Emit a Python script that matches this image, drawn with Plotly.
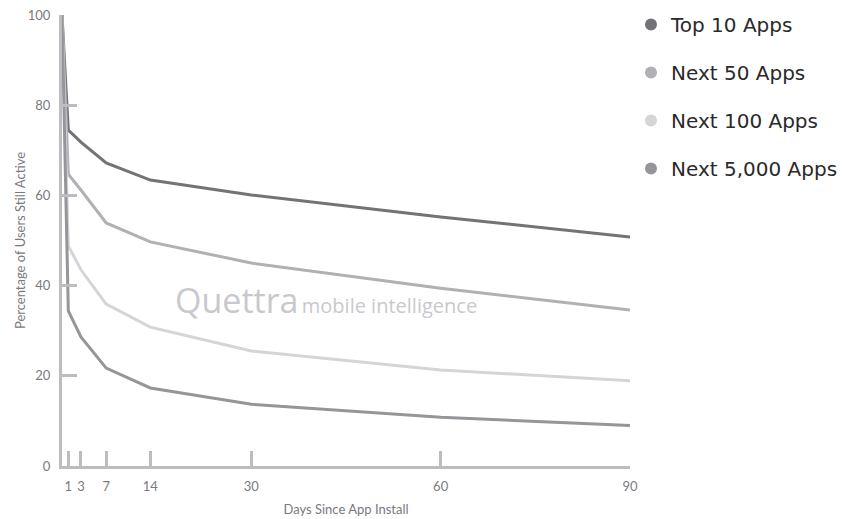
import plotly.graph_objects as go

days = [0, 1, 3, 7, 14, 30, 60, 90]
top10 = [100, 74.5, 71.8, 67.2, 63.4, 60.1, 55.2, 50.8]
next50 = [100, 64.7, 61.2, 53.9, 49.7, 45.0, 39.4, 34.6]
next100 = [100, 48.8, 43.5, 35.9, 30.8, 25.5, 21.3, 18.9]
next5000 = [100, 34.4, 28.6, 21.7, 17.3, 13.7, 10.8, 9.0]

series_names = ["Top 10 Apps", "Next 50 Apps", "Next 100 Apps", "Next 5,000 Apps"]
series_vals = [top10, next50, next100, next5000]
colors = ["#737377", "#b0b0b5", "#d5d5d8", "#95959a"]

x_ticks = [1, 3, 7, 14, 30, 60, 90]
y_ticks = [0, 20, 40, 60, 80, 100]

FONT = "Lato"
fig = go.Figure()

for name, vals, c in zip(series_names, series_vals, colors):
    fig.add_trace(go.Scatter(x=days, y=vals, mode="lines", line=dict(color=c, width=3),
                             showlegend=False, hoverinfo="skip"))

for i, (name, c) in enumerate(zip(series_names, colors)):
    fig.add_trace(go.Scatter(x=[None], y=[None], mode="markers", name=name,
                             marker=dict(color=c, size=17, symbol="circle"),
                             legendgroup=str(i), showlegend=True))

axis_col = "#bdbdc1"
fig.update_layout(
    width=847, height=519,
    margin=dict(l=54, r=225, t=7, b=61, autoexpand=False),
    paper_bgcolor="white", plot_bgcolor="white",
    font=dict(family=FONT, color="#7a7a7e", size=13),
    xaxis=dict(range=[0, 90], tickmode="array", tickvals=x_ticks,
               ticktext=[str(v) for v in x_ticks], automargin=False,
               ticks="inside", ticklen=15, tickwidth=2.5, tickcolor=axis_col,
               showline=True, linecolor=axis_col, linewidth=3, showgrid=False,
               zeroline=False, tickfont=dict(size=13, color="#7a7a7e"),
               ticklabelstandoff=6, ticklabeloverflow="allow",
               title=dict(text="Days Since App Install", standoff=13,
                          font=dict(size=13, color="#7a7a7e"))),
    yaxis=dict(range=[0, 100], tickmode="array", tickvals=y_ticks, automargin=False,
               ticks="inside", ticklen=15, tickwidth=2.5, tickcolor=axis_col,
               showline=True, linecolor=axis_col, linewidth=3, showgrid=False,
               zeroline=False, tickfont=dict(size=13, color="#7a7a7e"),
               ticklabelstandoff=6, ticklabeloverflow="allow",
               title=dict(text="Percentage of Users Still Active", standoff=0,
                          font=dict(size=13, color="#7a7a7e"))),
    legend=dict(x=1 + 1 / 568, xanchor="left", y=1 + 10 / 451, yanchor="top", xref="paper",
                font=dict(size=20, color="#2a2a2a", family="DejaVu Sans"),
                tracegroupgap=19, itemsizing="constant", bgcolor="rgba(0,0,0,0)",
                traceorder="grouped"),
    showlegend=True,
)

# watermark
fig.add_annotation(xref="paper", yref="paper", x=(173 - 62) / 568, y=(466 - 300) / 451,
                   xanchor="left", yanchor="middle", showarrow=False,
                   text="<span style='font-size:34px'>Quettra</span> <span style='font-size:20px'>mobile intelligence</span>",
                   font=dict(family="Open Sans", color="#c9c9cd"))

# clipped title at top
fig.add_annotation(xref="paper", yref="paper", x=(531 - 62) / 568, y=1 + 11 / 451,
                   xanchor="right", yanchor="bottom", showarrow=False,
                   text="Average Retention Rate for Android Apps",
                   font=dict(family=FONT, size=22, color="#333333"))

fig.write_html("out.html")
